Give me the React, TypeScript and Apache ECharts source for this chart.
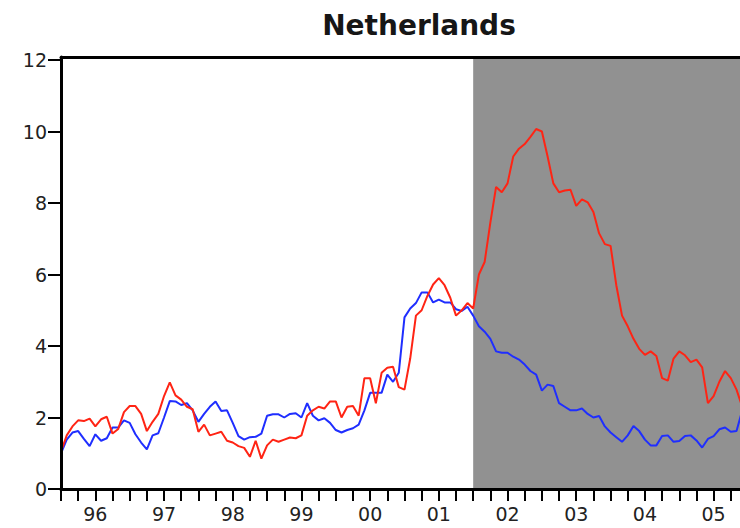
import React, { useEffect, useRef } from "react";
import * as echarts from "echarts";

const titleText = "Netherlands";
const startYear = 1996;
const years = [1996, 1997, 1998, 1999, 2000, 2001, 2002, 2003, 2004, 2005];
const xMax = 2005.884;
const shadeStart = 2002;
const yTicks = [0, 2, 4, 6, 8, 10, 12];

// monthly values, Jan 1996 onwards
const redValues = [
  1.05, 1.5, 1.75, 1.92, 1.9, 1.97, 1.75, 1.95, 2.02, 1.55, 1.68, 2.15,
  2.32, 2.32, 2.1, 1.62, 1.88, 2.1, 2.6, 2.98, 2.62, 2.5, 2.3, 2.23,
  1.6, 1.8, 1.5, 1.55, 1.6, 1.35, 1.3, 1.2, 1.15, 0.9, 1.35, 0.85,
  1.22, 1.38, 1.32, 1.38, 1.44, 1.42, 1.5, 2.05, 2.2, 2.3, 2.25, 2.45,
  2.45, 2.0, 2.3, 2.32, 2.05, 3.1, 3.1, 2.4, 3.25, 3.39, 3.42, 2.85,
  2.78, 3.65, 4.85, 5.0, 5.4, 5.72, 5.9, 5.7, 5.35, 4.85, 5.0, 5.2,
  5.05, 6.0, 6.35, 7.45, 8.45, 8.3, 8.55, 9.3, 9.52, 9.65, 9.85, 10.07,
  10.0, 9.3, 8.55, 8.3, 8.35, 8.37, 7.92, 8.1, 8.02, 7.75, 7.15, 6.85,
  6.8, 5.7, 4.85, 4.55, 4.2, 3.92, 3.75, 3.85, 3.72, 3.1, 3.03, 3.65,
  3.85, 3.74, 3.55, 3.62, 3.4, 2.4, 2.6, 3.0, 3.3, 3.1, 2.78, 2.3,
];

const blueValues = [
  1.0, 1.38, 1.58, 1.62, 1.4, 1.2, 1.53, 1.35, 1.42, 1.72, 1.72, 1.92,
  1.85, 1.53, 1.3, 1.11, 1.5, 1.56, 2.0, 2.46, 2.45, 2.35, 2.4, 2.2,
  1.88, 2.1, 2.3, 2.45, 2.18, 2.2, 1.85, 1.48, 1.38, 1.45, 1.46, 1.55,
  2.05, 2.09, 2.09, 2.0, 2.1, 2.12, 2.0, 2.4, 2.05, 1.92, 1.98, 1.85,
  1.65, 1.58, 1.65, 1.7, 1.8, 2.2, 2.69, 2.69, 2.69, 3.2, 3.0, 3.25,
  4.8, 5.05, 5.2, 5.5, 5.5, 5.22, 5.3, 5.22, 5.22, 5.03, 4.98, 5.1,
  4.85, 4.55, 4.4, 4.2, 3.85, 3.81, 3.81, 3.7, 3.62, 3.48, 3.3, 3.2,
  2.75, 2.92, 2.88, 2.4, 2.3, 2.2, 2.2, 2.25, 2.1, 2.0, 2.04, 1.75,
  1.58, 1.45, 1.32, 1.5, 1.76, 1.62, 1.38, 1.22, 1.22, 1.48, 1.5, 1.32,
  1.34, 1.48, 1.5, 1.36, 1.16, 1.4, 1.48, 1.67, 1.72, 1.6, 1.62, 2.2,
];

const FONT = "DejaVu Sans";

export default function App() {
  const ref = useRef<HTMLDivElement>(null);
  useEffect(() => {
    if (!ref.current) return;
    const chart = echarts.init(ref.current, null, { renderer: "svg" });
    const toPairs = (vals: number[]) => vals.map((v, i) => [startYear + i / 12, v]);
    const quarterTicks: number[] = [];
    years.forEach((y) => [0, 0.25, 0.5, 0.75].forEach((q) => quarterTicks.push(y + q)));
    const labelTicks = years.map((y) => y + 0.5);
    chart.setOption({
      animation: false,
      backgroundColor: "#ffffff",
      graphic: [
        {
          type: "text",
          x: 419,
          y: 11,
          style: {
            text: titleText,
            fontFamily: FONT,
            fontSize: 28,
            fontWeight: "bold",
            fill: "#161616",
            align: "center",
            verticalAlign: "top",
          },
        },
      ],
      grid: { left: 61, right: 0, top: 57, bottom: 39, containLabel: false },
      xAxis: [
        {
          type: "value",
          min: startYear,
          max: xMax,
          z: 5,
          splitLine: { show: false },
          axisLine: { show: true, onZero: false, lineStyle: { color: "#000", width: 3 } },
          axisTick: {
            show: true,
            customValues: quarterTicks,
            length: 12,
            lineStyle: { color: "#000", width: 2 },
          },
          axisLabel: {
            customValues: labelTicks,
            formatter: (v: number) => String(Math.floor(v) % 100).padStart(2, "0"),
            fontFamily: FONT,
            fontSize: 19,
            color: "#222",
            margin: 15,
          },
        },
        {
          type: "value",
          position: "top",
          min: startYear,
          max: xMax,
          z: 5,
          splitLine: { show: false },
          axisLine: { show: true, onZero: false, lineStyle: { color: "#000", width: 3 } },
          axisTick: { show: false },
          axisLabel: { show: false },
        },
      ],
      yAxis: {
        type: "value",
        min: 0,
        max: 12.084,
        z: 5,
        splitLine: { show: false },
        axisLine: { show: true, onZero: false, lineStyle: { color: "#000", width: 3 } },
        axisTick: {
          show: true,
          customValues: yTicks,
          length: 13,
          lineStyle: { color: "#000", width: 2 },
        },
        axisLabel: {
          customValues: yTicks,
          formatter: (v: number) => String(v),
          fontFamily: FONT,
          fontSize: 19,
          color: "#222",
          margin: 14,
        },
      },
      series: [
        {
          type: "line",
          data: [],
          z: 1,
          silent: true,
          markArea: {
            silent: true,
            itemStyle: { color: "#919191", opacity: 1 },
            data: [[{ xAxis: shadeStart }, { xAxis: xMax }]],
          },
        },
        {
          type: "line",
          data: toPairs(blueValues),
          showSymbol: false,
          symbol: "none",
          z: 3,
          lineStyle: { color: "#1f2eff", width: 2 },
        },
        {
          type: "line",
          data: toPairs(redValues),
          showSymbol: false,
          symbol: "none",
          z: 4,
          lineStyle: { color: "#ff2414", width: 2 },
        },
      ],
    });
    return () => chart.dispose();
  }, []);
  return (
    <div
      ref={ref}
      style={{ position: "fixed", left: 0, top: 0, width: 740, height: 528 }}
    />
  );
}
